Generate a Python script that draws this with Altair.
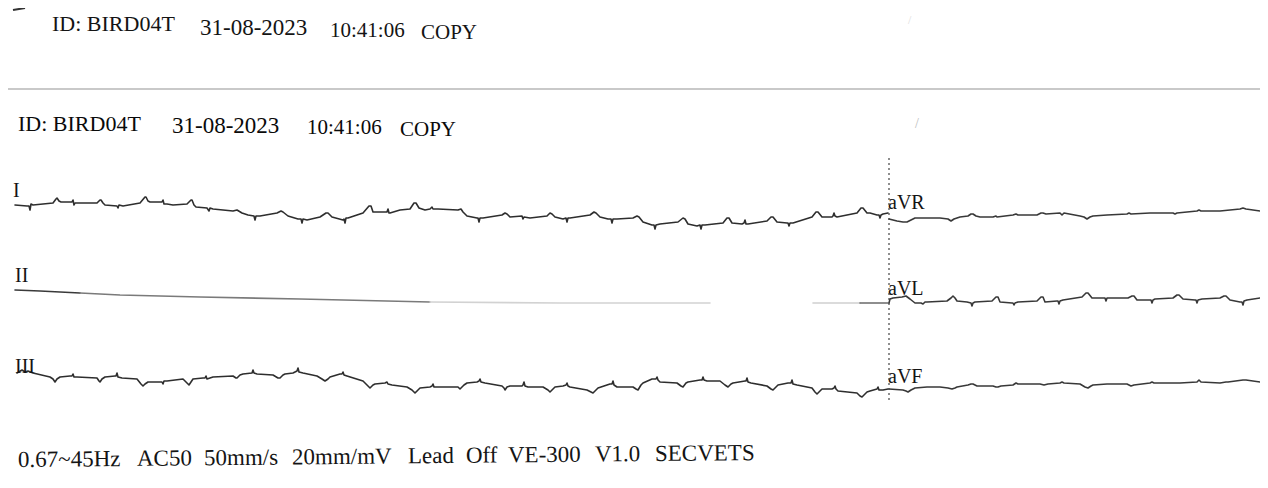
import altair as alt
import pandas as pd

# ---- data (image pixel units) ----
LEAD_I = [(15,205),(27,206),(29,206),(30,210),(31,204),(33,205),
(53,203),(56,199),(57,198),(59,201),(61,202),(72,202),(73,200),(74,205),(75,203),(77,203),
(97,203),(100,200),(101,200),(103,203),(105,205),(117,206),(118,208),(119,205),(123,206),
(140,203),(145,197),(146,197),(148,201),(150,202),(162,202),(163,200),(164,204),(167,204),(173,205),
(187,204),(191,200),(192,200),(194,205),(196,207),(207,208),(209,211),(210,208),(213,209),
(233,211),(237,210),(242,213),(248,215),(254,216),(255,220),(256,216),(260,216),
(277,213),(281,211),(283,212),(288,216),(298,219),(301,219),(302,223),(303,219),(307,220),
(320,217),(326,213),(328,213),(332,217),(343,220),(344,219),(345,223),(346,218),(348,218),
(363,213),(369,206),(371,206),(373,212),(387,212),(388,209),(389,213),(390,213),(400,210),
(410,209),(414,203),(416,203),(419,208),(425,210),(430,209),(432,207),(433,209),(438,209),
(458,210),(461,209),(463,212),(467,216),(477,218),(478,218),(479,222),(480,218),(483,218),
(502,215),(505,213),(507,214),(510,217),(522,216),(523,219),(524,217),(530,218),
(547,216),(550,213),(552,214),(555,217),(563,219),(566,218),(567,222),(568,218),(570,218),
(590,215),(594,212),(596,213),(600,217),(608,219),(611,219),(612,223),(613,219),(617,219),
(633,218),(637,216),(639,217),(643,222),(652,225),(654,225),(655,229),(656,225),(660,224),
(678,222),(683,218),(685,219),(688,224),(697,226),(700,225),(701,229),(702,225),(705,225),
(723,223),(727,218),(729,218),(732,223),(742,224),(744,223),(745,220),(746,224),(748,224),
(767,221),(771,217),(773,217),(777,222),(787,223),(788,223),(789,226),(790,223),(793,223),
(812,217),(816,212),(818,212),(822,217),(832,217),(833,216),(834,213),(835,216),(837,217),
(857,213),(861,208),(863,208),(867,213),(870,213),(877,215),(879,215),(880,218),(881,215),(883,214),(888,213)]

LEAD_AVR = [(889,219),(897,221),(903,222),(907,222),(915,218),(930,218),(940,218),(948,219),(951,221),(954,219),(960,217),
(968,216),(971,214),(973,214),(976,216),(980,217),(993,217),(996,216),(997,217),(1013,215),(1016,214),(1018,215),
(1037,215),(1041,213),(1043,213),(1046,214),(1060,213),(1062,215),(1064,213),(1080,216),(1084,217),(1087,219),(1090,217),(1093,216),
(1107,215),(1127,214),(1129,213),(1131,214),(1150,213),(1173,213),(1175,214),(1177,213),(1197,211),(1199,210),(1201,211),
(1220,211),(1240,209),(1243,208),(1246,209),(1267,212)]

LEAD_II_DARK = [(15,290),(40,291),(80,293)]
LEAD_II_MID = [(80,293),(120,295),(200,297),(300,299),(430,302)]
LEAD_II_FAINT = [(430,302),(560,303),(710,303)]
LEAD_II_FAINT2 = [(813,303),(860,303)]
LEAD_II_END = [(860,303),(888,303)]

LEAD_AVL = [(889,303),(890,299),(893,298),(902,297),(906,296),(910,299),(915,303),(921,303),(923,304),(925,302),(927,302),
(947,301),(951,298),(953,296),(955,298),(957,301),(967,302),(971,303),(972,306),(973,303),(975,302),
(992,301),(996,297),(998,297),(1000,302),(1012,303),(1013,303),(1014,305),(1015,303),(1018,302),
(1037,301),(1041,297),(1043,297),(1045,302),(1057,301),(1058,301),(1059,304),(1060,301),(1063,300),
(1082,297),(1086,293),(1088,293),(1092,298),(1103,298),(1105,298),(1106,301),(1107,298),(1110,298),
(1128,298),(1132,296),(1134,296),(1137,300),(1148,300),(1151,300),(1152,303),(1153,300),(1155,299),
(1173,298),(1177,295),(1179,295),(1183,299),(1195,300),(1196,300),(1197,303),(1198,300),(1202,299),
(1220,298),(1224,296),(1226,296),(1230,300),(1240,302),(1242,302),(1243,305),(1244,301),(1247,300),(1267,297)]

LEAD_III = [(17,373),(22,370),(25,372),(28,371),(33,373),(50,377),(53,379),(55,382),(57,379),(60,377),(70,376),(72,376),(73,374),(74,377),(77,377),
(97,378),(99,381),(100,382),(102,379),(105,377),(115,376),(116,376),(117,373),(118,377),(122,378),
(137,379),(141,384),(143,386),(145,384),(148,382),(160,382),(162,382),(163,384),(164,381),(167,381),
(183,379),(187,383),(189,385),(191,382),(193,379),(203,378),(205,378),(206,376),(207,379),(213,377),
(233,376),(236,378),(237,378),(240,375),(243,374),(252,373),(253,370),(254,373),(257,374),
(273,375),(278,378),(280,378),(283,375),(285,374),(293,373),(297,371),(298,368),(299,372),(303,373),
(317,376),(322,379),(325,381),(328,379),(330,377),(340,374),(342,374),(343,372),(344,375),(347,376),
(363,381),(367,385),(370,388),(373,385),(375,384),(385,383),(387,382),(388,384),(392,385),
(407,387),(412,390),(415,393),(418,390),(420,388),(430,387),(432,386),(433,384),(434,387),(443,387),
(458,387),(460,389),(464,385),(467,383),(477,382),(479,381),(480,379),(481,382),(485,383),
(502,386),(504,388),(505,390),(507,387),(510,386),(522,386),(523,385),(524,382),(525,386),(528,387),
(543,387),(548,390),(550,392),(553,389),(555,387),(563,386),(566,385),(567,383),(568,386),(570,387),
(587,390),(591,392),(593,393),(596,390),(598,388),(610,384),(612,384),(613,381),(614,385),(617,387),
(633,387),(636,389),(638,390),(641,385),(643,383),(652,379),(656,379),(657,377),(658,380),(660,382),
(677,383),(681,386),(683,387),(686,383),(688,382),(700,380),(702,380),(703,377),(704,380),(707,381),
(720,381),(725,385),(728,387),(731,384),(733,383),(745,381),(746,381),(747,378),(748,382),(751,383),
(767,386),(771,389),(773,390),(776,387),(778,385),(788,383),(791,383),(792,380),(793,384),(797,385),
(812,388),(815,392),(817,394),(820,391),(822,389),(832,389),(834,388),(835,386),(836,389),(838,391),
(857,393),(860,396),(862,397),(865,394),(867,392),(870,391),(877,389),(878,387),(879,390),(883,390),(888,389)]

LEAD_AVF = [(889,389),(903,390),(906,391),(908,392),(911,390),(915,388),(927,387),(940,387),(948,388),(952,389),(955,388),(957,387),
(968,385),(971,384),(973,384),(977,386),(993,386),(996,387),(998,387),(1001,386),(1013,385),(1016,383),(1018,384),
(1040,384),(1044,385),(1048,384),(1060,383),(1062,382),(1064,383),(1080,384),(1085,387),(1088,388),(1091,386),(1093,385),
(1107,384),(1127,384),(1131,386),(1134,385),(1150,383),(1152,382),(1154,383),(1173,383),(1180,383),(1197,382),(1199,380),(1201,382),
(1220,383),(1226,382),(1228,382),(1243,380),(1246,380),(1267,383)]

LEAD_NAMES = ["I", "II", "III", "aVR", "aVL", "aVF"]
HEADER = ["ID: BIRD04T", "31-08-2023", "10:41:06", "COPY"]
FOOTER = ["0.67~45Hz", "AC50", "50mm/s", "20mm/mV", "Lead", "Off", "VE-300", "V1.0", "SECVETS"]

# ---- build the trace table ----
segments = [
    ("I", LEAD_I, "#2e2e2e"), ("aVR", LEAD_AVR, "#383838"),
    ("II_a", LEAD_II_DARK, "#3a3a3a"), ("II_b", LEAD_II_MID, "#7a7a7a"),
    ("II_c", LEAD_II_FAINT, "#d2d2d2"), ("II_d", LEAD_II_FAINT2, "#cfcfcf"),
    ("II_e", LEAD_II_END, "#6a6a6a"),
    ("aVL", LEAD_AVL, "#383838"), ("III", LEAD_III, "#2e2e2e"), ("aVF", LEAD_AVF, "#383838"),
]
rows = []
for name, pts, col in segments:
    for i, (px, py) in enumerate(pts):
        rows.append({"seg": name, "i": i, "x": px, "y": py, "c": col})
df = pd.DataFrame(rows)

W, H = 1252, 470
X0, Y0 = 8, 8
xs = alt.Scale(domain=[X0, X0 + W], nice=False, zero=False)
ys = alt.Scale(domain=[Y0, Y0 + H], nice=False, zero=False, reverse=True)

traces = alt.Chart(df).mark_line(strokeWidth=1.6, interpolate="linear", clip=False,
                                 strokeJoin="round", strokeCap="round").encode(
    x=alt.X("x:Q", scale=xs, axis=None),
    y=alt.Y("y:Q", scale=ys, axis=None),
    detail="seg:N",
    order="i:Q",
    color=alt.Color("c:N", scale=None),
)

one = alt.Data(values=[{"k": 1}])

def txt(s, px, py, size, color="#141414", font="Liberation Serif", angle=None):
    kw = dict(text=s, x=px - X0, y=py - Y0, align="left", baseline="alphabetic",
              font=font, fontSize=size, color=color)
    if angle is not None:
        kw["angle"] = angle
    return alt.Chart(one).mark_text(**kw)

layers = [traces]

# header row 1
for s, px, py, sz in zip(HEADER, [52, 200, 330, 421], [31, 35, 37, 39], [22, 23, 21, 21]):
    layers.append(txt(s, px, py, sz))
# header row 2
for s, px, py, sz in zip(HEADER, [18, 172, 307, 400], [131, 133, 134, 136], [22, 23, 21, 21]):
    layers.append(txt(s, px, py, sz, color="#0a0a0a"))

# lead labels
for s, px, py in zip(LEAD_NAMES, [13, 15, 15, 888, 888, 888], [197, 282, 373, 209, 295, 383]):
    layers.append(txt(s, px, py, 20))

# footer words (slightly tilted line)
fx = [18, 137, 204, 292, 408, 466, 508, 595, 655]
for s, px in zip(FOOTER, fx):
    py = 467 - 7 * (px - 18) / 737
    layers.append(txt(s, px, py, 23, angle=359.5))

# separator line, dotted divider, small marks
layers.append(alt.Chart(one).mark_rule(color="#c9c9c9", strokeWidth=2).encode(
    x=alt.value(0), x2=alt.value(W), y=alt.value(89 - Y0)))
layers.append(alt.Chart(one).mark_rule(color="#444444", strokeWidth=1.2, strokeDash=[2, 3]).encode(
    x=alt.value(889 - X0), y=alt.value(158 - Y0), y2=alt.value(402 - Y0)))
layers.append(alt.Chart(one).mark_rule(color="#333333", strokeWidth=2).encode(
    x=alt.value(13 - X0), x2=alt.value(25 - X0), y=alt.value(10 - Y0), y2=alt.value(8 - Y0)))
layers.append(txt("/", 915, 128, 14, color="#bdbdbd"))
layers.append(txt("/", 908, 24, 12, color="#dddddd"))

chart = alt.layer(*layers).properties(
    width=W, height=H, padding=0, autosize=alt.AutoSizeParams(type="none"),
    background="#ffffff",
).configure_view(stroke=None)

chart.save("out.html", embed_options={"renderer": "svg", "actions": False})
